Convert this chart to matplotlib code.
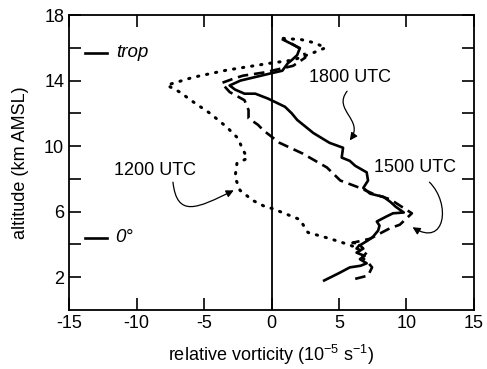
import numpy as np
import matplotlib.pyplot as plt
from matplotlib.path import Path
from matplotlib.patches import FancyArrowPatch

plt.rcParams['font.family'] = ['Liberation Sans', 'DejaVu Sans']
plt.rcParams['mathtext.default'] = 'regular'

# 1800 UTC profile (solid)
vort_1800 = [3.9, 5.0, 5.8, 6.6, 7.05, 6.55, 6.9, 6.3, 6.8, 6.55, 7.15, 7.5, 7.9, 8.0,
             7.8, 8.5, 9.0, 9.8, 9.2, 8.8, 8.3, 7.3, 6.8, 7.15, 7.05, 6.2, 5.8, 5.2,
             5.3, 4.3, 3.1, 1.9, 1.5, 1.0, -0.26, -1.2, -2.0, -2.7, -3.1, -2.3, 0.0,
             0.8, 1.2, 1.5, 1.9, 2.1, 0.85]
alt_1800 = [1.8, 2.25, 2.6, 2.7, 2.85, 3.1, 3.3, 3.5, 3.75, 3.95, 4.25, 4.45, 4.85, 5.15,
            5.4, 5.7, 5.9, 5.95, 6.3, 6.6, 6.9, 7.1, 7.45, 7.9, 8.4, 8.8, 9.1, 9.3,
            9.9, 10.2, 10.8, 11.6, 12.0, 12.4, 12.9, 13.2, 13.2, 13.45, 13.7, 14.0, 14.45,
            14.6, 15.05, 15.25, 15.55, 15.98, 16.5]

# 1500 UTC profile (dashed)
vort_1500 = [6.2, 7.15, 7.45, 7.15, 6.7, 7.05, 6.3, 6.6, 6.0, 7.3, 8.8, 9.5, 10.4,
             8.8, 7.5, 6.55, 5.1, 4.1, 2.3, 0.6, -0.6, -1.0, -1.7, -1.7, -2.0, -3.1,
             -3.7, -2.7, -2.1, -0.5, 1.6, 2.5, 2.4, 1.6, 0.9]
alt_1500 = [1.9, 2.1, 2.6, 2.9, 3.2, 3.5, 3.75, 4.05, 4.1, 4.35, 5.0, 5.2, 5.9,
            6.75, 7.1, 7.45, 7.9, 8.7, 9.55, 10.2, 10.96, 11.3, 11.7, 12.2, 12.8, 13.3,
            13.85, 14.15, 14.3, 14.5, 14.9, 15.4, 15.8, 16.2, 16.5]

# 1200 UTC profile (dotted)
vort_1200 = [6.0, 5.3, 4.3, 2.7, 2.1, 0.04, -0.34, -1.37, -2.33, -2.7, -2.56, -1.8,
             -2.33, -2.56, -3.3, -4.55, -5.8, -6.8, -7.75, -5.8, -3.3, -0.1, 1.6, 3.1,
             4.0, 3.2, 2.2, 0.4]
alt_1200 = [3.9, 4.1, 4.36, 4.73, 5.52, 6.2, 6.25, 6.68, 7.3, 8.1, 8.95, 9.25,
            10.17, 10.54, 11.15, 12.0, 12.7, 13.3, 13.72, 14.2, 14.64, 15.06, 15.25, 15.7,
            16.0, 16.3, 16.5, 16.6]

fig = plt.figure(figsize=(4.87, 3.69), dpi=100)
ax = fig.add_axes([0.1417, 0.1599, 0.8316, 0.7994])

ax.plot(vort_1800, alt_1800, color='black', lw=1.9, solid_joinstyle='round')
ax.plot(vort_1500, alt_1500, color='black', lw=1.9, linestyle=(0, (4, 2.2)))
ax.plot(vort_1200, alt_1200, color='black', lw=2.2, linestyle=(0, (0.4, 2.6)),
        dash_capstyle='round')
ax.axvline(0, color='black', lw=1.3)

# reference levels on the left
ax.plot([-13.8, -12.2], [15.7, 15.7], color='black', lw=1.9)
ax.text(-11.5, 15.7, 'trop', fontsize=13.5, style='italic', va='center')
ax.plot([-13.8, -12.2], [4.4, 4.4], color='black', lw=1.9)
ax.text(-11.6, 4.45, '0°', fontsize=13.5, style='italic', va='center')

# time labels with curved arrows
ax.text(2.8, 14.2, '1800 UTC', fontsize=13, va='center')
ax.text(7.6, 8.7, '1500 UTC', fontsize=13, va='center')
ax.text(-11.7, 8.5, '1200 UTC', fontsize=13, va='center')

curves = [[(5.6, 13.35), (4.5, 12.2), (6.9, 11.6), (5.8, 10.35)],
          [(11.7, 7.8), (13.3, 6.5), (12.9, 3.8), (10.45, 5.05)],
          [(-7.3, 7.8), (-7.0, 5.6), (-5.5, 6.2), (-2.8, 7.3)]]
for pts in curves:
    path = Path(pts, [Path.MOVETO, Path.CURVE4, Path.CURVE4, Path.CURVE4])
    ax.add_patch(FancyArrowPatch(path=path, arrowstyle='-|>', mutation_scale=11,
                                 color='black', lw=0.9))

ax.set_xlim(-15, 15)
ax.set_ylim(0, 18)
ax.set_xticks([-15, -10, -5, 0, 5, 10, 15])
ax.set_xticklabels(['-15', '-10', '-5', '0', '5', '10', '15'])
ax.set_yticks([2, 6, 10, 14, 18])
ax.set_yticks([4, 8, 12, 16], minor=True)
ax.tick_params(which='both', direction='in', length=8.5, width=1.2,
               top=True, right=True, labelsize=13)
for s in ax.spines.values():
    s.set_linewidth(1.3)

ax.set_xlabel('relative vorticity (10$^{-5}$ s$^{-1}$)', fontsize=13, labelpad=8)
ax.set_ylabel('altitude (km AMSL)', fontsize=13, labelpad=11)

fig.savefig('out.png', dpi=100)
